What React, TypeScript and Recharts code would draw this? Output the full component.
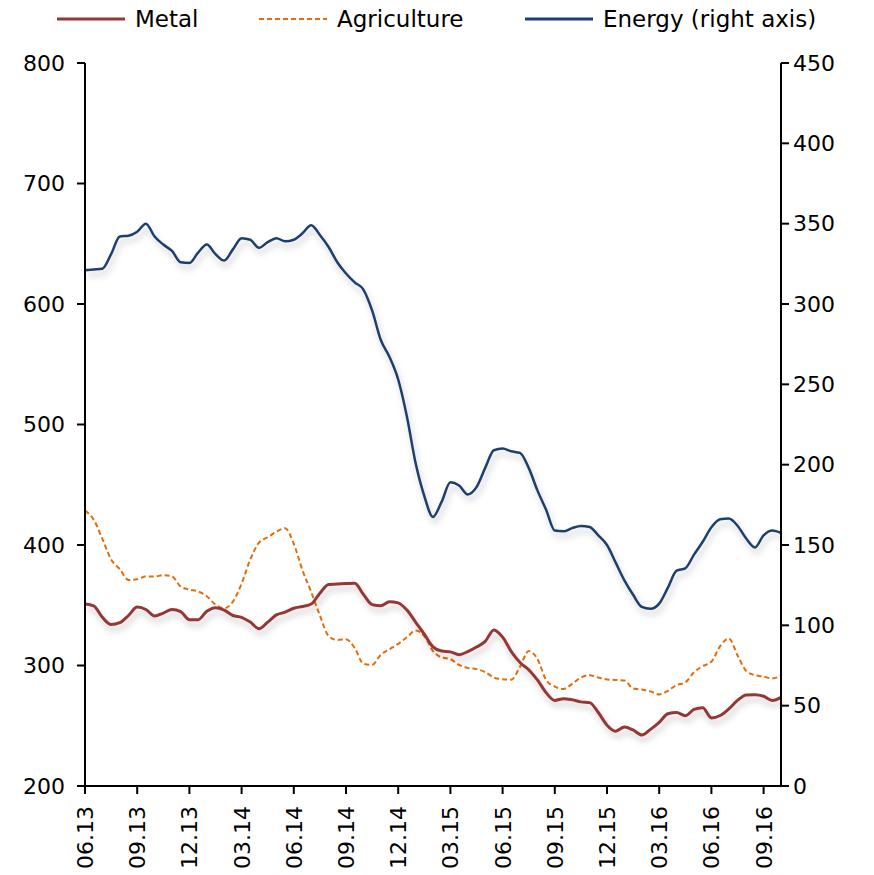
import React from "react";
import { LineChart, Line, XAxis, YAxis } from "recharts";

// half-month samples from 06.13 to 10.16
const metal = [
  351, 349.5, 340, 334, 335.5, 341.5, 348.5, 346.5, 341, 343.5,
  346.5, 344.7, 338, 338, 345, 348, 346, 341.5, 340, 336,
  330.5, 336, 342, 344.3, 347.5, 349, 351, 360, 367.3, 367.6,
  368, 368.3, 359, 350.5, 349.5, 353, 352, 346, 336, 326,
  315.5, 312, 311.3, 309, 311.5, 315.3, 320, 329.5, 323.5, 311.5,
  302.5, 296.5, 288, 277.5, 271, 272.5, 271.5, 269.8, 269.2, 261,
  250.5, 245.5, 249, 246.5, 242.3, 247, 252.8, 260, 261, 258.3,
  263.5, 265, 256.5, 258.5, 264, 271, 275.5, 275.8, 274.5, 271,
  273.5,
];

const agriculture = [
  428.5, 421, 405, 388, 380, 371, 371.5, 374, 373.8, 375,
  374, 365.5, 363, 361.5, 357.5, 350.5, 347.5, 353, 368, 388,
  402, 406.5, 411, 414, 401, 379, 361, 341.5, 324.5, 321.2,
  321.8, 314.5, 301.5, 300.5, 309, 313.5, 318, 323.5, 329, 324.5,
  312, 306.7, 305.3, 300.5, 298, 297, 294.5, 290, 288.6, 288.2,
  299, 312, 305.5, 288, 282.5, 280.6, 284.8, 290, 292, 290,
  288.4, 288, 287.5, 281, 280, 278.5, 276, 279, 283.8, 286,
  294.5, 299.5, 303.2, 316, 322.5, 308.5, 295.5, 292, 290.8, 289.3,
  291.5,
];

const energy = [
  321, 321.5, 322, 331, 342, 342.5, 345, 350, 342, 337,
  333, 326, 325.5, 332, 337, 331, 327, 334, 341, 340,
  335, 338.5, 341, 339, 340, 344, 349, 343, 335.5, 326,
  319, 313.5, 309, 296, 277.6, 267, 253, 230, 201, 180.5,
  167.5, 177, 189, 187, 181.5, 186, 198, 209, 210, 208.3,
  207.3, 198, 184, 172, 159, 158.5, 160.5, 161.8, 161.2, 156,
  150, 139, 128, 119, 111.5, 110.3, 113.5, 123.5, 134, 135.5,
  144, 152, 161, 166, 166.5, 162, 154, 148.5, 156, 159,
  157.5,
];

const xTickLabels = [
  "06.13", "09.13", "12.13", "03.14", "06.14", "09.14", "12.14",
  "03.15", "06.15", "09.15", "12.15", "03.16", "06.16", "09.16",
];
const xTicks = xTickLabels.map((_, i) => i * 3);
const leftTicks = [200, 300, 400, 500, 600, 700, 800];
const rightTicks = [0, 50, 100, 150, 200, 250, 300, 350, 400, 450];

const data = metal.map((m, i) => ({
  month: i / 2,
  metal: m,
  agriculture: agriculture[i],
  energy: energy[i],
}));

const FONT = "'DejaVu Sans', sans-serif";
const METAL = "#953735";
const AGRI = "#E46C0A";
const ENERGY = "#1F3F6E";

const XTick = (props: any) => {
  const { x, y, payload } = props;
  const label = xTickLabels[Math.round(payload.value / 3)];
  return (
    <g transform={`translate(${x},${y + 10})`}>
      <text
        x={0}
        y={0}
        dy={8}
        transform="rotate(-90)"
        textAnchor="end"
        fontFamily={FONT}
        fontSize={22}
        fill="#000"
      >
        {label}
      </text>
    </g>
  );
};

const legendItems = [
  { name: "Metal", color: METAL, dash: undefined, left: 57 },
  { name: "Agriculture", color: AGRI, dash: "5 3", left: 259 },
  { name: "Energy (right axis)", color: ENERGY, dash: undefined, left: 525 },
];

export default function App() {
  return (
    <div style={{ position: "relative", width: 858, height: 866 }}>
      {legendItems.map((it) => (
        <div
          key={it.name}
          style={{
            position: "absolute",
            top: -2,
            left: it.left - 8,
            display: "flex",
            alignItems: "center",
            fontFamily: FONT,
            fontSize: 23,
            color: "#000",
            whiteSpace: "nowrap",
          }}
        >
          <svg width={70} height={20} style={{ marginRight: 8 }}>
            <line
              x1={0}
              y1={10}
              x2={68}
              y2={10}
              stroke={it.color}
              strokeWidth={it.dash ? 2 : 3}
              strokeDasharray={it.dash}
            />
          </svg>
          {it.name}
        </div>
      ))}
      <LineChart
        width={858}
        height={866}
        data={data}
        margin={{ top: 55, right: 15, bottom: 18, left: 7 }}
      >
        <defs>
          <filter id="shadow" x="-5%" y="-5%" width="110%" height="130%">
            <feDropShadow dx="2" dy="5" stdDeviation="3" floodColor="#000" floodOpacity="0.22" />
          </filter>
        </defs>
        <XAxis
          dataKey="month"
          type="number"
          domain={[0, 40]}
          ticks={xTicks}
          interval={0}
          height={70}
          tick={<XTick />}
          axisLine={{ stroke: "#000", strokeWidth: 2 }}
          tickLine={{ stroke: "#000", strokeWidth: 2 }}
          tickSize={8}
        />
        <YAxis
          yAxisId="left"
          domain={[200, 800]}
          ticks={leftTicks}
          interval={0}
          width={70}
          tick={{ fontFamily: FONT, fontSize: 22, fill: "#000" }}
          axisLine={{ stroke: "#000", strokeWidth: 2 }}
          tickLine={{ stroke: "#000", strokeWidth: 2 }}
          tickSize={8}
          tickMargin={12}
        />
        <YAxis
          yAxisId="right"
          orientation="right"
          domain={[0, 450]}
          ticks={rightTicks}
          interval={0}
          width={70}
          tick={{ fontFamily: FONT, fontSize: 22, fill: "#000", textAnchor: "start" }}
          axisLine={{ stroke: "#000", strokeWidth: 2 }}
          tickLine={{ stroke: "#000", strokeWidth: 2 }}
          tickSize={8}
          tickMargin={4}
        />
        <Line
          yAxisId="right"
          dataKey="energy"
          type="monotone"
          stroke={ENERGY}
          strokeWidth={2.5}
          dot={false}
          filter="url(#shadow)"
          isAnimationActive={false}
        />
        <Line
          yAxisId="left"
          dataKey="agriculture"
          type="monotone"
          stroke={AGRI}
          strokeWidth={2}
          strokeDasharray="5 3"
          dot={false}
          isAnimationActive={false}
        />
        <Line
          yAxisId="left"
          dataKey="metal"
          type="monotone"
          stroke={METAL}
          strokeWidth={3}
          dot={false}
          filter="url(#shadow)"
          isAnimationActive={false}
        />
      </LineChart>
    </div>
  );
}
